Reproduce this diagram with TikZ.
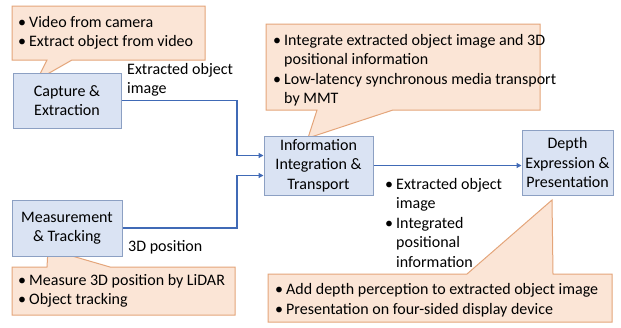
\documentclass[tikz,border=0pt]{standalone}
\usepackage{fontspec}
\setmainfont{Carlito}
\usetikzlibrary{arrows.meta}
\definecolor{boxfill}{RGB}{218,227,243}
\definecolor{boxline}{RGB}{140,160,195}
\definecolor{callfill}{RGB}{251,229,214}
\definecolor{callline}{RGB}{228,165,122}
\definecolor{conncol}{RGB}{64,106,182}
\newcommand{\bl}{\makebox[11pt][l]{\textbullet}}
\newcommand{\ind}{\hspace*{11pt}}
\begin{document}
\begin{tikzpicture}[x=1pt,y=-1pt,
  every node/.style={font=\fontsize{16}{19.5}\selectfont, inner sep=0pt},
  procbox/.style={draw=boxline, fill=boxfill, line width=1pt, align=center},
  callout/.style={draw=callline, fill=callfill, line width=1pt, line join=miter},
  conn/.style={draw=conncol, line width=1.9pt, -{Triangle[length=5pt,width=5pt]}},
  txt/.style={align=left, anchor=west}]
\useasboundingbox (0,0) rectangle (621,327);

% callouts
\draw[callout] (12,6) -- (205,6) -- (205,60) -- (72,60) -- (37,80) -- (47,60) -- (12,60) -- cycle;
\draw[callout] (266,24) -- (540,24) -- (540,110) -- (393,110) -- (308,138) -- (317,110) -- (266,110) -- cycle;
\draw[callout] (12,267) -- (47,267) -- (48,249) -- (110,267) -- (235,267) -- (235,315) -- (12,315) -- cycle;
\draw[callout] (268,274) -- (467,274) -- (552,200) -- (553,274) -- (612,274) -- (612,322) -- (268,322) -- cycle;

\node[txt] (t1) at (18,33) {\bl Video from camera\\\bl Extract object from video};
\node[txt] (t2) at (273,70) {\bl Integrate extracted object image and 3D\\\ind positional information\\\bl Low-latency synchronous media transport\\\ind by MMT};
\node[txt] (t3) at (18,291) {\bl Measure 3D position by LiDAR\\\bl Object tracking};
\node[txt] (t4) at (275,300) {\bl Add depth perception to extracted object image\\\bl Presentation on four-sided display device};

% process boxes
\node[procbox, minimum width=108pt, minimum height=55pt] (cap) at (67,100.5) {Capture \&\\Extraction};
\node[procbox, minimum width=110pt, minimum height=56pt] (meas) at (67,228) {Measurement\\\& Tracking};
\node[procbox, minimum width=109pt, minimum height=59pt] (info) at (318.5,165.5) {Information\\Integration \&\\Transport};
\node[procbox, minimum width=91pt, minimum height=65pt] (dep) at (567.5,162.5) {Depth\\Expression \&\\Presentation};

% labels
\node[txt] (l1) at (127,80) {Extracted object\\image};
\node[txt] (l2) at (128,247) {3D position};
\node[txt] (l3) at (385,222.5) {\bl Extracted object\\\ind image\\\bl Integrated\\\ind positional\\\ind information};

% connectors
\coordinate (mx) at (237,0);
\coordinate (in1) at ([yshift=10pt]info.west);
\coordinate (in2) at ([yshift=-10pt]info.west);
\draw[conn] (cap.east) -- (cap.east -| mx) -- (mx |- in1) -- (in1);
\draw[conn] (meas.east) -- (meas.east -| mx) -- (mx |- in2) -- (in2);
\draw[conn] (info.east) -- (dep.west |- info.east);
\end{tikzpicture}
\end{document}
